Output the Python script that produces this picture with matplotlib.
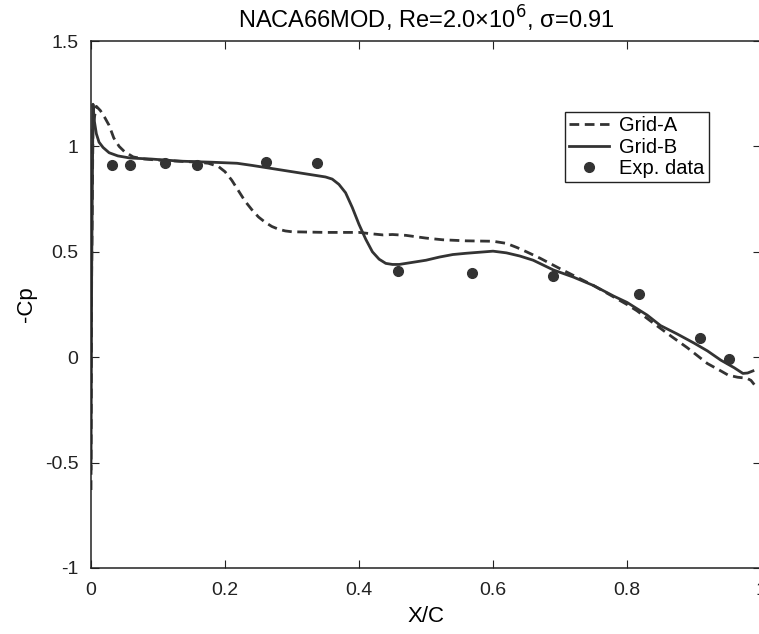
import matplotlib
matplotlib.use("Agg")
import matplotlib.pyplot as plt

plt.rcParams['font.family'] = ['Liberation Sans', 'DejaVu Sans']

# Grid-A (dashed)
xa = [0.0, 0.001, 0.003, 0.008, 0.014, 0.020, 0.027, 0.034, 0.042, 0.050, 0.063,
      0.08, 0.10, 0.13, 0.16, 0.175, 0.19, 0.20, 0.21, 0.22, 0.23, 0.24, 0.25,
      0.26, 0.27, 0.28, 0.29, 0.30, 0.35, 0.40, 0.42, 0.436, 0.45, 0.47, 0.50,
      0.525, 0.56, 0.60, 0.62, 0.636, 0.65, 0.67, 0.70, 0.75, 0.80, 0.815, 0.84,
      0.867, 0.89, 0.92, 0.94, 0.951, 0.965, 0.979, 0.985, 0.99]
ya = [-0.63, 0.40, 1.10, 1.19, 1.17, 1.14, 1.10, 1.04, 1.00, 0.975, 0.95,
      0.94, 0.935, 0.93, 0.925, 0.92, 0.905, 0.88, 0.84, 0.79, 0.74, 0.70, 0.665,
      0.64, 0.62, 0.607, 0.599, 0.595, 0.592, 0.592, 0.585, 0.58, 0.582, 0.578,
      0.565, 0.557, 0.552, 0.55, 0.54, 0.52, 0.50, 0.47, 0.42, 0.34, 0.25, 0.22,
      0.16, 0.097, 0.045, -0.03, -0.065, -0.085, -0.095, -0.10, -0.11, -0.13]

# Grid-B (solid)
xb = [0.0, 0.001, 0.003, 0.005, 0.008, 0.012, 0.018, 0.027, 0.04, 0.058, 0.09,
      0.133, 0.18, 0.218, 0.24, 0.26, 0.28, 0.30, 0.33, 0.35, 0.36, 0.37, 0.38,
      0.39, 0.40, 0.41, 0.42, 0.43, 0.44, 0.45, 0.46, 0.48, 0.50, 0.52, 0.54,
      0.56, 0.58, 0.60, 0.62, 0.64, 0.66, 0.69, 0.72, 0.75, 0.78, 0.80, 0.83,
      0.85, 0.875, 0.90, 0.92, 0.94, 0.96, 0.973, 0.98, 0.988]
yb = [-0.53, 0.40, 1.20, 1.12, 1.06, 1.02, 0.995, 0.97, 0.955, 0.945, 0.94,
      0.93, 0.925, 0.92, 0.91, 0.90, 0.89, 0.88, 0.865, 0.855, 0.845, 0.82, 0.78,
      0.71, 0.63, 0.56, 0.50, 0.465, 0.445, 0.44, 0.44, 0.45, 0.46, 0.475, 0.487,
      0.493, 0.498, 0.503, 0.495, 0.48, 0.46, 0.414, 0.38, 0.34, 0.29, 0.26, 0.20,
      0.15, 0.11, 0.067, 0.03, -0.014, -0.05, -0.077, -0.075, -0.065]

# experimental data
xe = [0.031, 0.058, 0.11, 0.158, 0.261, 0.338, 0.458, 0.569, 0.69, 0.818, 0.909, 0.952]
ye = [0.914, 0.914, 0.92, 0.914, 0.924, 0.92, 0.41, 0.40, 0.386, 0.30, 0.09, -0.01]

W, H = 759, 634
fig = plt.figure(figsize=(W / 100, H / 100), dpi=100, facecolor='white')
ax = fig.add_axes([91 / W, (H - 568) / H, 670 / W, 527 / H])

col = '#333333'
ax.plot(xa, ya, color=col, lw=2.0, ls=(0, (3.5, 2)), label='Grid-A')
ax.plot(xb, yb, color=col, lw=2.0, label='Grid-B')
ax.plot(xe, ye, 'o', color=col, ms=7, ls='none', label='Exp. data')

ax.set_xlim(0, 1)
ax.set_ylim(-1, 1.5)
ax.set_xticks([0, 0.2, 0.4, 0.6, 0.8, 1])
ax.set_xticklabels(['0', '0.2', '0.4', '0.6', '0.8', '1'])
ax.set_yticks([-1, -0.5, 0, 0.5, 1, 1.5])
ax.set_yticklabels(['-1', '-0.5', '0', '0.5', '1', '1.5'])
ax.tick_params(direction='in', top=True, right=True, labelsize=14,
               length=6, colors='#222222')
ax.tick_params(axis='x', pad=10)
ax.tick_params(axis='y', pad=9)
for s in ax.spines.values():
    s.set_linewidth(1.1)
    s.set_color('#222222')

ax.set_xlabel('X/C', fontsize=16, labelpad=5)
ax.set_ylabel('-Cp', fontsize=16, labelpad=6)
ax.set_title('NACA66MOD, Re=2.0\u00d710$^6$, \u03c3=0.91', fontsize=17, pad=9)

ax.legend(loc='upper right', bbox_to_anchor=(0.922, 0.865), fontsize=14.5,
          frameon=True, fancybox=False, edgecolor='#222222', framealpha=1,
          handlelength=2.0, handletextpad=0.5, borderpad=0.2, labelspacing=0.12,
          borderaxespad=0)

fig.savefig('out.png', dpi=100, facecolor='white')
